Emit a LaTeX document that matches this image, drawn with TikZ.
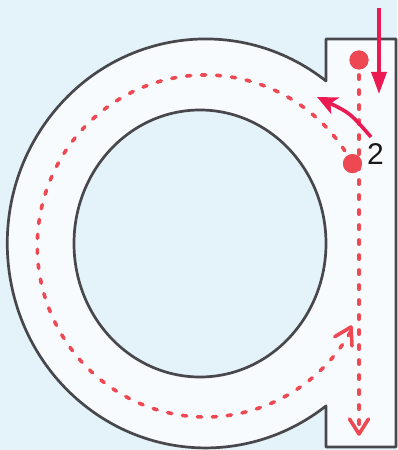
\documentclass[tikz,border=0pt]{standalone}
\usepackage{fontspec}
\setmainfont{Liberation Sans}
\usetikzlibrary{arrows.meta}
\definecolor{bgblue}{HTML}{E4F2FA}
\definecolor{letterfill}{HTML}{F7FBFE}
\definecolor{outline}{HTML}{48484C}
\definecolor{tracered}{HTML}{EE4852}
\definecolor{arrowred}{HTML}{EC1A52}
\tikzset{
  reddash/.style={draw=tracered, line width=3.6pt, line cap=round, dash pattern=on 4.2pt off 10.8pt},
  chev/.style={draw=tracered, line width=3.6pt, line cap=round, line join=round},
  reddot/.style={circle, fill=tracered, inner sep=0pt, minimum size=19pt},
  solidarrow/.style={draw=arrowred, line width=3.6pt},
  numlabel/.style={inner sep=0pt, text=black!90, font=\fontsize{30}{30}\selectfont}
}
\begin{document}
\begin{tikzpicture}[x=1pt, y=1pt]
\useasboundingbox (0,0) rectangle (397,450);
\fill[bgblue] (0,0) rectangle (397,450);
% letter shape: outer bowl + stem, with the counter cut out
\path[fill=letterfill, draw=outline, line width=2.7pt, even odd rule, line join=round]
  (326,369) arc[start angle=52.6, end angle=307.4, x radius=198.3, y radius=204.5]
  -- (326,3) -- (396,3) -- (396,411) -- (326,411) -- cycle
  (200,206.5) ellipse[x radius=126, y radius=133.5];
% coordinates
\coordinate (tipA) at (351,123);
\coordinate (tipB) at (359,16);
\coordinate (armA1) at (352,104);
\coordinate (armA2) at (334.7,113.3);
\coordinate (armB1) at (349.5,31);
\coordinate (armB2) at (368.5,31);
\coordinate (s1) at (379,442);
\coordinate (s1end) at (379,356);
\coordinate (c1) at (371,313);
\coordinate (c1end) at (317,353);
% dots
\node[reddot] (d1) at (359,390) {};
\node[reddot] (d2) at (352.5,286.4) {};
% dashed traces
\draw[reddash] (d2.center) arc[start angle=28.8, end angle=331.4, x radius=168, y radius=171];
\draw[reddash] (d1.center) -- (tipB);
\draw[chev] (armA1) -- (tipA) -- (armA2);
\draw[chev] (armB1) -- (tipB) -- (armB2);
% dots on top
\node[reddot] at (d1) {};
\node[reddot] at (d2) {};
% solid arrows
\draw[solidarrow, -{Triangle[length=22pt, width=15pt]}] (s1) -- (s1end);
\draw[solidarrow, -{Stealth[length=20pt, width=18pt, inset=5pt]}] (c1) .. controls (350,337) .. (c1end);
% number
\node[numlabel] (n2) at (375.5,296) {2};
\end{tikzpicture}
\end{document}
